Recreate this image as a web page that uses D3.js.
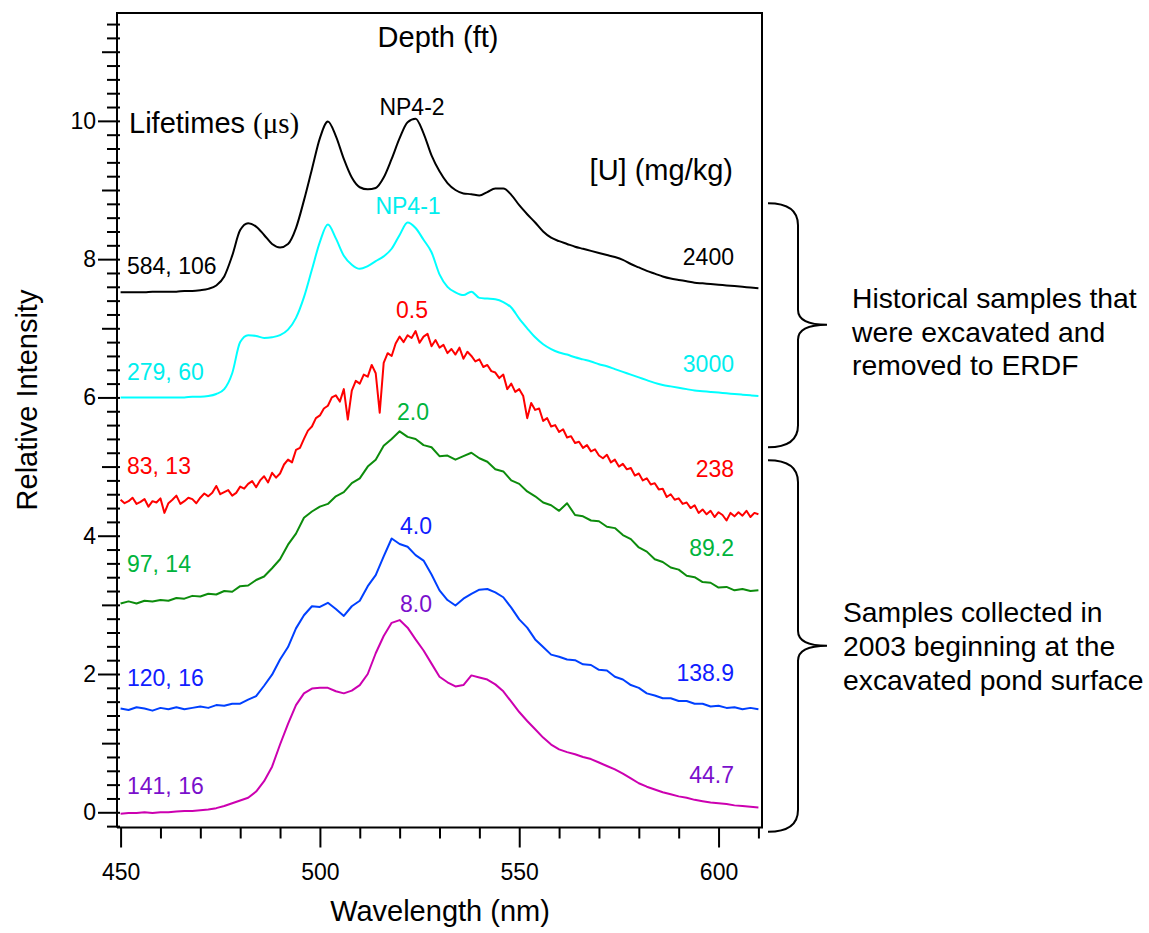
<!DOCTYPE html>
<html><head><meta charset="utf-8">
<script src="https://cdn.jsdelivr.net/npm/d3@7"></script>
<style>
body{margin:0;background:#fff}
svg{display:block}
text{font-family:"Liberation Sans",Arial,sans-serif}
</style>
</head><body>
<svg id="chart" width="1149" height="933"></svg>
<script>
// ---------- DATA ----------
const xTickLabels = [450, 500, 550, 600];
const yTickLabels = [0, 2, 4, 6, 8, 10];
// 2-nm grid spectra (450..610 nm)
const np42 = [7.52,7.52,7.52,7.52,7.53,7.53,7.53,7.53,7.54,7.54,
  7.55,7.57,7.62,7.75,8.05,8.42,8.52,8.47,8.35,8.22,
  8.17,8.22,8.45,8.85,9.30,9.75,9.99,9.78,9.45,9.18,
  9.04,9.01,9.03,9.18,9.45,9.75,9.98,10.03,9.82,9.50,
  9.27,9.10,9.00,8.95,8.94,8.92,8.97,9.02,9.02,8.93,
  8.78,8.65,8.53,8.40,8.31,8.26,8.22,8.18,8.15,8.12,
  8.09,8.06,8.03,7.99,7.93,7.88,7.83,7.79,7.75,7.72,
  7.70,7.68,7.66,7.65,7.64,7.63,7.62,7.61,7.60,7.59,
  7.58];
const np41 = [6.00,6.00,6.00,6.00,6.00,6.00,6.00,6.00,6.00,6.01,
  6.01,6.02,6.05,6.12,6.35,6.80,6.90,6.89,6.86,6.87,
  6.90,6.98,7.15,7.45,7.85,8.25,8.50,8.30,8.05,7.92,
  7.86,7.90,7.97,8.04,8.15,8.35,8.53,8.45,8.28,8.10,
  7.78,7.60,7.52,7.48,7.53,7.44,7.43,7.42,7.38,7.30,
  7.14,7.00,6.87,6.77,6.70,6.65,6.62,6.58,6.55,6.52,
  6.48,6.45,6.41,6.37,6.33,6.29,6.25,6.21,6.18,6.16,
  6.14,6.12,6.10,6.09,6.08,6.07,6.06,6.05,6.04,6.03,
  6.02];
// 1-nm grid, depth 0.5 ft
const d05 = [4.52,4.47,4.50,4.55,4.46,4.49,4.53,4.42,4.50,4.48,
  4.54,4.33,4.47,4.52,4.58,4.46,4.50,4.55,4.53,4.47,
  4.55,4.61,4.57,4.62,4.72,4.60,4.63,4.66,4.58,4.62,
  4.71,4.68,4.75,4.79,4.70,4.80,4.86,4.77,4.91,4.84,
  4.90,5.03,5.10,5.06,5.24,5.27,5.40,5.52,5.58,5.70,
  5.74,5.84,5.88,6.00,6.03,5.94,6.12,5.68,6.10,6.24,
  6.20,6.33,6.30,6.47,6.35,5.78,6.50,6.64,6.60,6.78,
  6.88,6.80,6.90,6.86,6.96,6.79,6.88,6.92,6.74,6.83,
  6.72,6.76,6.64,6.70,6.62,6.72,6.56,6.66,6.60,6.52,
  6.55,6.44,6.47,6.38,6.36,6.28,6.33,6.12,6.20,6.08,
  6.12,6.02,5.70,5.92,5.82,5.84,5.66,5.70,5.58,5.60,
  5.50,5.54,5.42,5.44,5.34,5.36,5.27,5.31,5.22,5.25,
  5.16,5.12,5.17,5.06,5.10,5.00,5.04,4.96,4.98,4.87,
  4.90,4.80,4.83,4.74,4.76,4.67,4.68,4.56,4.60,4.52,
  4.54,4.46,4.48,4.40,4.44,4.33,4.38,4.31,4.36,4.27,
  4.34,4.30,4.22,4.33,4.28,4.34,4.29,4.36,4.27,4.33,
  4.31];
const d20 = [3.02,3.05,3.02,3.06,3.05,3.07,3.06,3.10,3.09,3.13,
  3.12,3.16,3.15,3.20,3.19,3.27,3.28,3.36,3.41,3.53,
  3.66,3.87,4.03,4.26,4.35,4.42,4.46,4.57,4.63,4.76,
  4.83,5.00,5.10,5.30,5.40,5.51,5.43,5.40,5.31,5.28,
  5.15,5.16,5.10,5.15,5.20,5.12,5.07,4.96,4.93,4.80,
  4.75,4.64,4.57,4.48,4.44,4.36,4.47,4.30,4.28,4.22,
  4.21,4.13,4.11,4.01,3.95,3.83,3.77,3.66,3.62,3.54,
  3.51,3.42,3.40,3.33,3.32,3.25,3.26,3.21,3.23,3.20,
  3.21];
const d40 = [1.50,1.48,1.52,1.50,1.47,1.51,1.49,1.52,1.49,1.51,
  1.53,1.51,1.55,1.54,1.57,1.57,1.63,1.68,1.83,1.99,
  2.21,2.39,2.66,2.85,2.98,2.97,3.03,2.94,2.84,2.98,
  3.06,3.27,3.43,3.70,3.96,3.88,3.84,3.72,3.64,3.44,
  3.21,3.07,2.99,3.09,3.16,3.22,3.23,3.18,3.11,2.96,
  2.79,2.67,2.50,2.39,2.28,2.25,2.21,2.20,2.14,2.13,
  2.06,2.05,1.96,1.92,1.84,1.80,1.72,1.69,1.65,1.65,
  1.61,1.61,1.57,1.57,1.53,1.54,1.51,1.52,1.49,1.51,
  1.49];
const d80 = [-0.02,-0.01,-0.01,0.00,-0.01,0.00,0.00,0.01,0.02,0.02,
  0.03,0.04,0.06,0.09,0.13,0.17,0.21,0.30,0.45,0.66,
  0.98,1.28,1.55,1.72,1.79,1.80,1.80,1.75,1.72,1.76,
  1.84,2.00,2.30,2.55,2.74,2.78,2.67,2.50,2.34,2.15,
  1.96,1.88,1.82,1.84,1.98,1.95,1.92,1.85,1.75,1.60,
  1.45,1.32,1.20,1.08,0.98,0.91,0.87,0.84,0.80,0.77,
  0.72,0.67,0.62,0.56,0.49,0.42,0.37,0.33,0.29,0.26,
  0.23,0.21,0.18,0.16,0.14,0.13,0.12,0.10,0.09,0.08,
  0.07];

const seriesNames = ["NP4-2","NP4-1","0.5","2.0","4.0","8.0"];
const lifetimes = ["584, 106","279, 60","83, 13","97, 14","120, 16","141, 16"];
const uranium = ["2400","3000","238","89.2","138.9","44.7"];
const lineColors = ["#000000","#00ffff","#ff0000","#0c8c0c","#0040ff","#cc00b0"];
const textColors = ["#000000","#00eeee","#ff0000","#00b43c","#1020ff","#7a10cc"];

// ---------- CHART ----------
const svg = d3.select("#chart");
const x = d3.scaleLinear().domain([449.1, 610.9]).range([117, 762]);
const y = d3.scaleLinear().domain([-0.22, 11.56]).range([827.5, 13]);

const grid2 = d3.range(450, 611, 2);
const grid1 = d3.range(450, 611, 1);
const seriesData = [
  {vals: np42, grid: grid2, smooth: true},
  {vals: np41, grid: grid2, smooth: true},
  {vals: d05, grid: grid1, smooth: false},
  {vals: d20, grid: grid2, smooth: false},
  {vals: d40, grid: grid2, smooth: false},
  {vals: d80, grid: grid2, smooth: false}
];

seriesData.forEach((s, i) => {
  const pts = s.vals.map((v, k) => [s.grid[k], v]);
  const line = d3.line().x(d => x(d[0])).y(d => y(d[1]))
    .curve(s.smooth ? d3.curveMonotoneX : d3.curveLinear);
  svg.append("path").datum(pts).attr("d", line)
    .attr("fill", "none").attr("stroke", lineColors[i])
    .attr("stroke-width", 2).attr("stroke-linejoin", "round");
});

// frame
svg.append("path")
  .attr("d", `M${x.range()[0]},${y.range()[0]}V${y.range()[1]}H${x.range()[1]}V${y.range()[0]}H${x.range()[0]}`)
  .attr("fill", "none").attr("stroke", "#000").attr("stroke-width", 2);

// y axis ticks (minor 0.2, integer, labelled)
const yMinor = d3.range(-1, 58).map(k => +(k * 0.2).toFixed(1)).filter(v => !Number.isInteger(v));
const yInt = d3.range(0, 12).filter(v => v % 2 === 1);
function yAxis(vals, size, labels) {
  const g = svg.append("g").attr("transform", `translate(${x.range()[0] + 3},0)`)
    .call(d3.axisLeft(y).tickValues(vals).tickSize(size).tickSizeOuter(0)
      .tickFormat(labels ? d3.format("d") : ""));
  g.attr("font-size", 23).attr("font-family", "Liberation Sans, Arial, sans-serif");
  g.select(".domain").remove();
  g.selectAll(".tick line").attr("stroke", "#000").attr("stroke-width", 2);
  g.selectAll(".tick text").attr("fill", "#000").attr("x", -size - 2);
  return g;
}
yAxis(yMinor, 13, false);
yAxis(yInt, 18, false);
yAxis(yTickLabels, 22, true);

// x axis ticks
const xMinor = d3.range(450, 611, 10).filter(v => v % 50 !== 0);
function xAxis(vals, size, labels) {
  const g = svg.append("g").attr("transform", `translate(0,${y.range()[0]})`)
    .call(d3.axisBottom(x).tickValues(vals).tickSize(size).tickSizeOuter(0)
      .tickFormat(labels ? d3.format("d") : ""));
  g.attr("font-size", 23).attr("font-family", "Liberation Sans, Arial, sans-serif");
  g.select(".domain").remove();
  g.selectAll(".tick line").attr("stroke", "#000").attr("stroke-width", 2);
  g.selectAll(".tick text").attr("fill", "#000").attr("y", 36);
  return g;
}
xAxis(xMinor, 11, false);
xAxis(xTickLabels, 20, true);

// axis titles
svg.append("text").attr("x", 440).attr("y", 921).attr("text-anchor", "middle")
  .attr("font-size", 29).text("Wavelength (nm)");
svg.append("text").attr("transform", "translate(37,400) rotate(-90)")
  .attr("text-anchor", "middle").attr("font-size", 29).text("Relative Intensity");

// header labels
svg.append("text").attr("x", 438).attr("y", 47).attr("text-anchor", "middle")
  .attr("font-size", 29).text("Depth (ft)");
const lt = svg.append("text").attr("x", 129).attr("y", 133).attr("font-size", 29);
lt.append("tspan").text("Lifetimes ");
lt.append("tspan").attr("font-family", "Liberation Serif, Times New Roman, serif").text("(μs)");
svg.append("text").attr("x", 733).attr("y", 180).attr("text-anchor", "end")
  .attr("font-size", 29).text("[U] (mg/kg)");

// per-series labels
const nameX = [412, 408, 412, 413, 416, 416];
const nameY = [10.08, 8.65, 7.15, 5.67, 4.03, 2.90];
const lifeY = [7.78, 6.25, 4.89, 3.48, 1.82, 0.27];
const uY = [7.91, 6.37, 4.85, 3.70, 1.90, 0.42];
svg.selectAll("text.name").data(seriesNames).join("text")
  .attr("x", (d, i) => nameX[i]).attr("y", (d, i) => y(nameY[i]))
  .attr("text-anchor", "middle").attr("font-size", 23)
  .attr("fill", (d, i) => textColors[i]).text(d => d);
svg.selectAll("text.life").data(lifetimes).join("text")
  .attr("x", 127).attr("y", (d, i) => y(lifeY[i]))
  .attr("font-size", 23).attr("fill", (d, i) => textColors[i]).text(d => d);
svg.selectAll("text.u").data(uranium).join("text")
  .attr("x", 734).attr("y", (d, i) => y(uY[i]))
  .attr("text-anchor", "end").attr("font-size", 23)
  .attr("fill", (d, i) => textColors[i]).text(d => d);

// braces
function brace(top, bottom, tip) {
  const x0 = 768, x1 = 798, x2 = 827, r = 22, t = 15;
  const yt = y(top), yb = y(bottom), ym = y(tip);
  return `M${x0},${yt}Q${x1},${yt} ${x1},${yt + r}V${ym - t}Q${x1},${ym} ${x2},${ym}` +
    `Q${x1},${ym} ${x1},${ym + t}V${yb - r}Q${x1},${yb} ${x0},${yb}`;
}
const braceSpans = [[8.81, 5.28, 7.05], [5.09, -0.28, 2.41]];
braceSpans.forEach(b => svg.append("path").attr("d", brace(...b))
  .attr("fill", "none").attr("stroke", "#000").attr("stroke-width", 2));

const noteA = ["Historical samples that", "were excavated and", "removed to ERDF"];
const noteB = ["Samples collected in", "2003 beginning at the", "excavated pond surface"];
noteA.forEach((t, i) => svg.append("text").attr("x", 852).attr("y", 308 + i * 33.5)
  .attr("font-size", 28.3).text(t));
noteB.forEach((t, i) => svg.append("text").attr("x", 843).attr("y", 622 + i * 34)
  .attr("font-size", 28.3).text(t));
</script>
</body></html>
